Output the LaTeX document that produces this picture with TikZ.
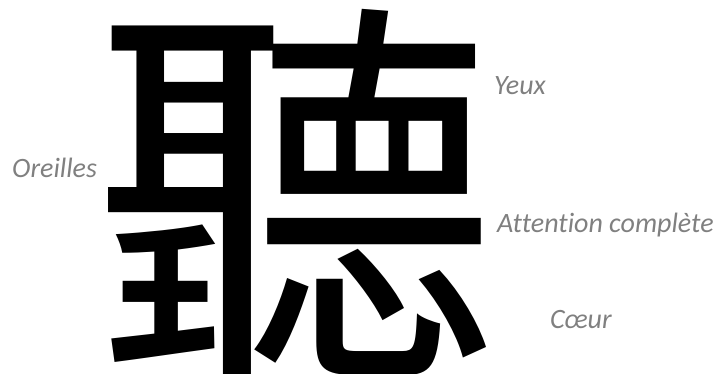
\documentclass[tikz,border=0pt]{standalone}
\usepackage{fontspec}
\setmainfont[Ligatures=NoCommon]{Carlito}
\newfontfamily\cjkfont{Noto Sans CJK TC}
\definecolor{labelgray}{RGB}{128,128,128}
\tikzset{
  lbl/.style={anchor=base west, inner sep=0pt, text=labelgray, font=\fontsize{28}{30}\selectfont\itshape},
  bigchar/.style={anchor=center, inner sep=0pt, font=\cjkfont\fontsize{406}{406}\selectfont}
}
\begin{document}
\begin{tikzpicture}[x=1pt,y=1pt]
\useasboundingbox (0,0) rectangle (724,373);
\node[bigchar] (ting) at (296,177) {聽};
\node[lbl] (yeux) at (494,278) {Yeux};
\node[lbl] (oreilles) at (12,195) {Oreilles};
\node[lbl] (attention) at (497,141) {Attention complète};
\node[lbl] (coeur) at (550,45) {Cœur};
\end{tikzpicture}
\end{document}
